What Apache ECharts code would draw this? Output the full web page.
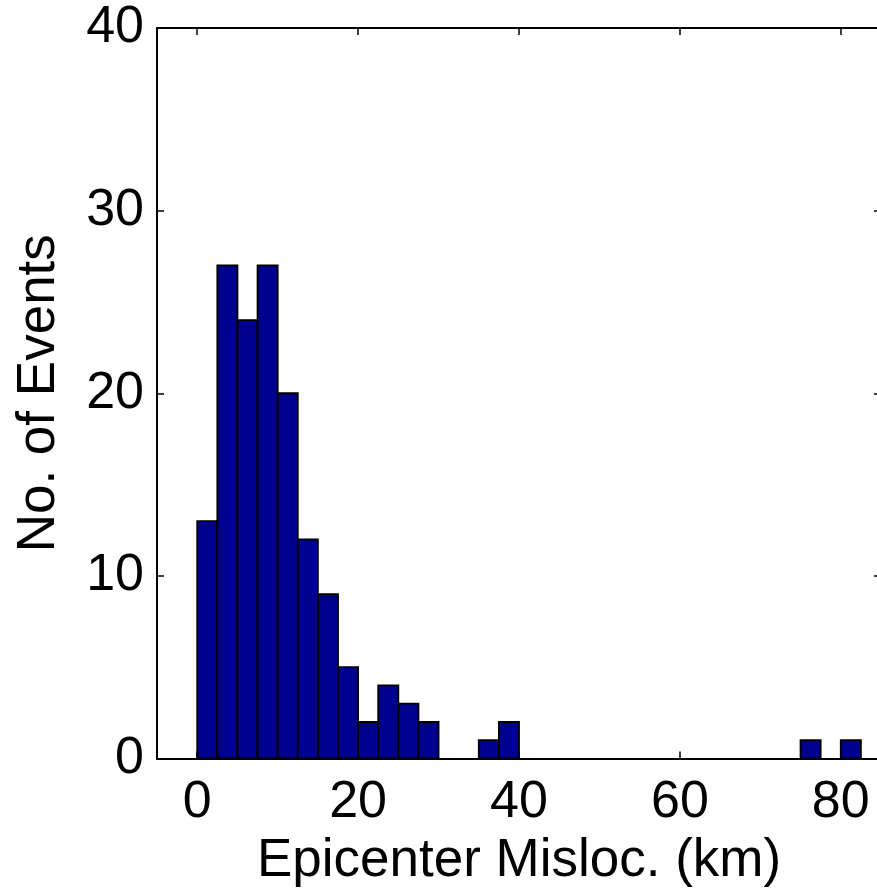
<!DOCTYPE html>
<html>
<head>
<meta charset="utf-8">
<script src="https://cdn.jsdelivr.net/npm/echarts@6/dist/echarts.min.js"></script>
<style>html,body{margin:0;padding:0;background:#fff}#c{width:877px;height:891px}</style>
</head>
<body>
<div id="c"></div>
<script>
// Histogram data (bin width 2.5 km)
var binStarts = [0, 2.5, 5, 7.5, 10, 12.5, 15, 17.5, 20, 22.5, 25, 27.5, 35, 37.5, 75, 80];
var counts    = [13, 27, 24, 27, 20, 12, 9, 5, 2, 4, 3, 2, 1, 2, 1, 1];
var binWidth = 2.5;
var xTicks = [0, 20, 40, 60, 80];
var yTicks = [0, 10, 20, 30, 40];

var chart = echarts.init(document.getElementById('c'), null, {renderer: 'canvas'});
var font = 'Liberation Sans, Arial, Helvetica, sans-serif';
var data = binStarts.map(function (s, i) { return [s, s + binWidth, counts[i]]; });

var lineStyle = {color: '#000', width: 2};
chart.setOption({
  animation: false,
  backgroundColor: '#fff',
  grid: {left: 157, top: 28, width: 724, height: 730.5, containLabel: false, outerBoundsMode: 'none'},
  xAxis: [{
    type: 'value', min: -5, max: 85, position: 'bottom',
    name: 'Epicenter Misloc. (km)', nameLocation: 'middle', nameGap: 76,
    nameTextStyle: {fontFamily: font, fontSize: 53, color: '#000'},
    axisLine: {show: true, onZero: false, lineStyle: lineStyle},
    axisTick: {show: true, inside: true, length: 7, customValues: xTicks, lineStyle: {color: '#000', width: 1.5}},
    axisLabel: {show: true, customValues: xTicks, fontFamily: font, fontSize: 52, color: '#000', margin: 18},
    splitLine: {show: false}
  }, {
    type: 'value', min: -5, max: 85, position: 'top',
    axisLine: {show: true, onZero: false, lineStyle: lineStyle},
    axisTick: {show: true, inside: true, length: 7, customValues: xTicks, lineStyle: {color: '#000', width: 1.5}},
    axisLabel: {show: false},
    splitLine: {show: false}
  }],
  yAxis: [{
    type: 'value', min: 0, max: 40, interval: 10, position: 'left',
    name: 'No. of Events', nameLocation: 'middle', nameGap: 91,
    nameTextStyle: {fontFamily: font, fontSize: 53, color: '#000'},
    axisLine: {show: true, onZero: false, lineStyle: lineStyle},
    axisTick: {show: true, inside: true, length: 7, lineStyle: {color: '#000', width: 1.5}},
    axisLabel: {show: true, fontFamily: font, fontSize: 52, color: '#000', margin: 13},
    splitLine: {show: false}
  }, {
    type: 'value', min: 0, max: 40, interval: 10, position: 'right',
    axisLine: {show: true, onZero: false, lineStyle: lineStyle},
    axisTick: {show: true, inside: true, length: 7, lineStyle: {color: '#000', width: 1.5}},
    axisLabel: {show: false},
    splitLine: {show: false}
  }],
  series: [{
    type: 'custom',
    xAxisIndex: 0, yAxisIndex: 0,
    data: data,
    encode: {x: [0, 1], y: 2},
    renderItem: function (params, api) {
      var p0 = api.coord([api.value(0), api.value(2)]);
      var p1 = api.coord([api.value(1), 0]);
      return {
        type: 'rect',
        shape: {x: p0[0], y: p0[1], width: p1[0] - p0[0], height: p1[1] - p0[1]},
        style: {fill: '#00008f', stroke: '#000', lineWidth: 1.8}
      };
    }
  }]
});
</script>
</body>
</html>
